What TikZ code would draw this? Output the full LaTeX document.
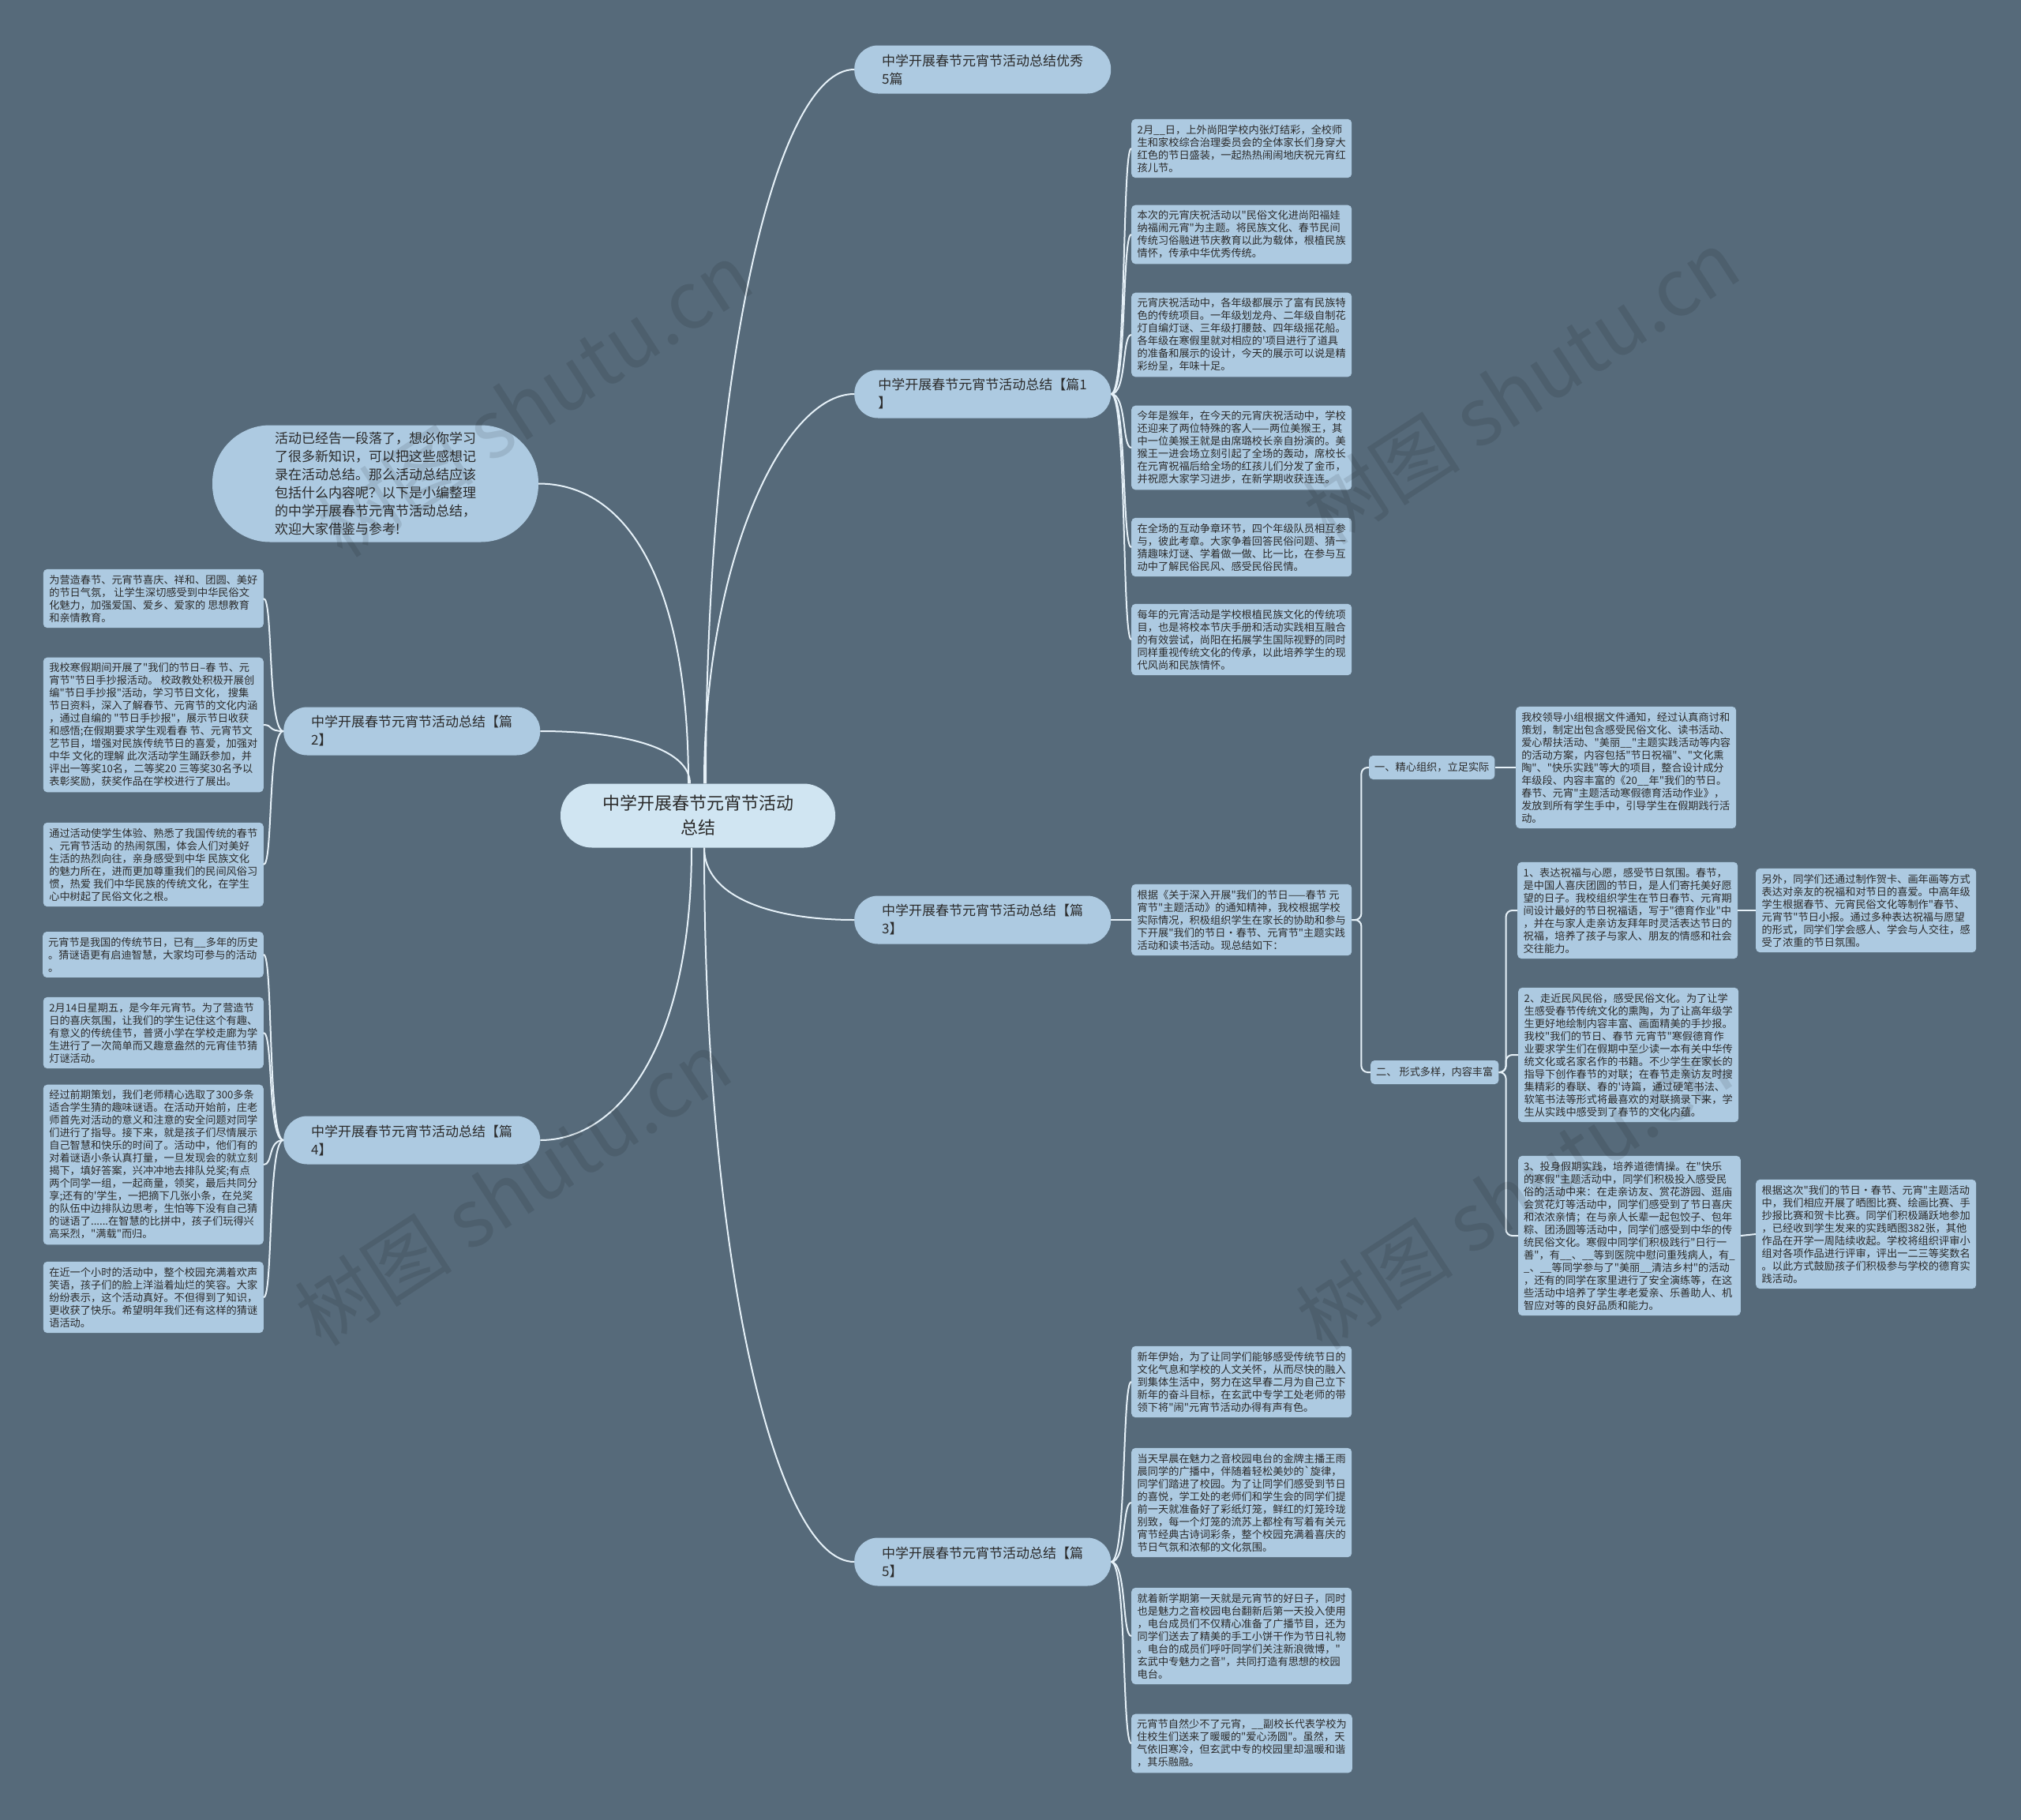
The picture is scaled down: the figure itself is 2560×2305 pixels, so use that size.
\documentclass[tikz,border=0pt]{standalone}
\usepackage{fontspec}
\setmainfont{Noto Sans CJK SC}[Ligatures=TeXOff]
\definecolor{bgc}{HTML}{566A7A}
\definecolor{leafc}{HTML}{ADCAE1}
\definecolor{rootc}{HTML}{D0E5F2}
\definecolor{linec}{HTML}{E6F1F8}
\definecolor{txtc}{HTML}{2B2B2B}
\begin{document}
\begin{tikzpicture}[x=1pt,y=-1pt,
  conn/.style={draw=linec, line width=2pt},
  leaf/.style={fill=leafc, rounded corners=5pt, align=left, text=txtc, font=\fontsize{13.2}{16}\selectfont, inner xsep=7pt, inner ysep=7pt, minimum width=279pt, anchor=west},
  leafl/.style={leaf, anchor=east},
  branch/.style={fill=leafc, rounded corners=30pt, align=left, text=txtc, font=\fontsize{17}{23}\selectfont, minimum width=325pt, minimum height=61pt, inner xsep=8pt, inner ysep=7pt, anchor=west},
  subnode/.style={fill=leafc, rounded corners=5pt, text=txtc, font=\fontsize{13.2}{16}\selectfont, inner xsep=7pt, inner ysep=6pt, minimum height=30pt, anchor=west},
  rootnode/.style={fill=rootc, rounded corners=40pt, align=center, text=txtc, font=\fontsize{22}{31}\selectfont, minimum width=348pt, minimum height=81pt},
  intronode/.style={fill=leafc, rounded corners=73pt, align=left, text=txtc, font=\fontsize{17}{23}\selectfont, minimum width=413pt, minimum height=148pt, inner ysep=4pt},
  wm/.style={text=black, opacity=0.1, font=\fontsize{100}{100}\selectfont, rotate=33}
]
\fill[bgc] (0,0) rectangle (2560,2305);
\useasboundingbox (0,0) rectangle (2560,2305);

% root and intro
\node[rootnode] (C) at (884,1033) {中学开展春节元宵节活动\\总结};
\node[intronode] (I0) at (475.5,612.5) {活动已经告一段落了，想必你学习\\了很多新知识，可以把这些感想记\\录在活动总结。那么活动总结应该\\包括什么内容呢？以下是小编整理\\的中学开展春节元宵节活动总结，\\欢迎大家借鉴与参考!};

% branches
\node[branch] (R0) at (1082,88) {中学开展春节元宵节活动总结优秀\\5篇};
\node[branch] (R1) at (1082,499) {中学开展春节元宵节活动总结【篇1\\】};
\node[branch] (R3) at (1082,1165) {中学开展春节元宵节活动总结【篇\\3】};
\node[branch] (R5) at (1082,1978) {中学开展春节元宵节活动总结【篇\\5】};
\node[branch] (L2) at (359,926) {中学开展春节元宵节活动总结【篇\\2】};
\node[branch] (L4) at (359,1444) {中学开展春节元宵节活动总结【篇\\4】};

% leaves of 篇1
\node[leaf] (P11) at (1433,188) {2月\_\_日，上外尚阳学校内张灯结彩，全校师\\生和家校综合治理委员会的全体家长们身穿大\\红色的节日盛装，一起热热闹闹地庆祝元宵红\\孩儿节。};
\node[leaf] (P12) at (1433,297) {本次的元宵庆祝活动以"民俗文化进尚阳福娃\\纳福闹元宵"为主题。将民族文化、春节民间\\传统习俗融进节庆教育以此为载体，根植民族\\情怀，传承中华优秀传统。};
\node[leaf] (P13) at (1433,424) {元宵庆祝活动中，各年级都展示了富有民族特\\色的传统项目。一年级划龙舟、二年级自制花\\灯自编灯谜、三年级打腰鼓、四年级摇花船。\\各年级在寒假里就对相应的'项目进行了道具\\的准备和展示的设计，今天的展示可以说是精\\彩纷呈，年味十足。};
\node[leaf] (P14) at (1433,567) {今年是猴年，在今天的元宵庆祝活动中，学校\\还迎来了两位特殊的客人——两位美猴王，其\\中一位美猴王就是由席璐校长亲自扮演的。美\\猴王一进会场立刻引起了全场的轰动，席校长\\在元宵祝福后给全场的红孩儿们分发了金币，\\并祝愿大家学习进步，在新学期收获连连。};
\node[leaf] (P15) at (1433,693) {在全场的互动争章环节，四个年级队员相互参\\与，彼此考章。大家争着回答民俗问题、猜一\\猜趣味灯谜、学着做一做、比一比，在参与互\\动中了解民俗民风、感受民俗民情。};
\node[leaf] (P16) at (1433,810) {每年的元宵活动是学校根植民族文化的传统项\\目，也是将校本节庆手册和活动实践相互融合\\的有效尝试，尚阳在拓展学生国际视野的同时\\同样重视传统文化的传承，以此培养学生的现\\代风尚和民族情怀。};

% leaves of 篇2
\node[leafl] (P21) at (334,758) {为营造春节、元宵节喜庆、祥和、团圆、美好\\的节日气氛， 让学生深切感受到中华民俗文\\化魅力，加强爱国、爱乡、爱家的 思想教育\\和亲情教育。};
\node[leafl] (P22) at (334,918) {我校寒假期间开展了"我们的节日–春 节、元\\宵节"节日手抄报活动。 校政教处积极开展创\\编"节日手抄报"活动，学习节日文化， 搜集\\节日资料，深入了解春节、元宵节的文化内涵\\，通过自编的 "节日手抄报"，展示节日收获\\和感悟;在假期要求学生观看春 节、元宵节文\\艺节目，增强对民族传统节日的喜爱，加强对\\中华 文化的理解 此次活动学生踊跃参加，并\\评出一等奖10名，二等奖20 三等奖30名予以\\表彰奖励，获奖作品在学校进行了展出。};
\node[leafl] (P23) at (334,1095) {通过活动使学生体验、熟悉了我国传统的春节\\、元宵节活动 的热闹氛围，体会人们对美好\\生活的热烈向往，亲身感受到中华 民族文化\\的魅力所在，进而更加尊重我们的民间风俗习\\惯，热爱 我们中华民族的传统文化，在学生\\心中树起了民俗文化之根。};

% leaves of 篇4
\node[leafl] (P41) at (334,1209) {元宵节是我国的传统节日，已有\_\_多年的历史\\。猜谜语更有启迪智慧，大家均可参与的活动\\。};
\node[leafl] (P42) at (334,1308) {2月14日星期五，是今年元宵节。为了营造节\\日的喜庆氛围，让我们的学生记住这个有趣、\\有意义的传统佳节，普贤小学在学校走廊为学\\生进行了一次简单而又趣意盎然的元宵佳节猜\\灯谜活动。};
\node[leafl] (P43) at (334,1475) {经过前期策划，我们老师精心选取了300多条\\适合学生猜的趣味谜语。在活动开始前，庄老\\师首先对活动的意义和注意的安全问题对同学\\们进行了指导。接下来，就是孩子们尽情展示\\自己智慧和快乐的时间了。活动中，他们有的\\对着谜语小条认真打量，一旦发现会的就立刻\\揭下，填好答案，兴冲冲地去排队兑奖;有点\\两个同学一组，一起商量，领奖，最后共同分\\享;还有的'学生，一把摘下几张小条，在兑奖\\的队伍中边排队边思考，生怕等下没有自己猜\\的谜语了......在智慧的比拼中，孩子们玩得兴\\高采烈，"满载"而归。};
\node[leafl] (P44) at (334,1643) {在近一个小时的活动中，整个校园充满着欢声\\笑语，孩子们的脸上洋溢着灿烂的笑容。大家\\纷纷表示，这个活动真好。不但得到了知识，\\更收获了快乐。希望明年我们还有这样的猜谜\\语活动。};

% 篇3
\node[leaf] (B3) at (1433,1165) {根据《关于深入开展"我们的节日——春节 元\\宵节"主题活动》的通知精神，我校根据学校\\实际情况，积极组织学生在家长的协助和参与\\下开展"我们的节日·春节、元宵节"主题实践\\活动和读书活动。现总结如下：};
\node[subnode] (S1) at (1734,972) {一、精心组织，立足实际};
\node[subnode] (S2) at (1736,1358) {二、 形式多样，内容丰富};
\node[leaf] (G1) at (1920,972) {我校领导小组根据文件通知，经过认真商讨和\\策划，制定出包含感受民俗文化、读书活动、\\爱心帮扶活动、"美丽\_\_"主题实践活动等内容\\的活动方案，内容包括"节日祝福"、"文化熏\\陶"、"快乐实践"等大的项目，整合设计成分\\年级段、内容丰富的《20\_\_年"我们的节日。\\春节、元宵"主题活动寒假德育活动作业》，\\发放到所有学生手中，引导学生在假期践行活\\动。};
\node[leaf] (H1) at (1922,1153) {1、表达祝福与心愿，感受节日氛围。春节，\\是中国人喜庆团圆的节日，是人们寄托美好愿\\望的日子。我校组织学生在节日春节、元宵期\\间设计最好的节日祝福语，写于"德育作业"中\\，并在与家人走亲访友拜年时灵活表达节日的\\祝福，培养了孩子与家人、朋友的情感和社会\\交往能力。};
\node[leaf] (H2) at (2224,1153) {另外，同学们还通过制作贺卡、画年画等方式\\表达对亲友的祝福和对节日的喜爱。中高年级\\学生根据春节、元宵民俗文化等制作"春节、\\元宵节"节日小报。通过多种表达祝福与愿望\\的形式，同学们学会感人、学会与人交往，感\\受了浓重的节日氛围。};
\node[leaf] (K1) at (1923,1336) {2、走近民风民俗，感受民俗文化。为了让学\\生感受春节传统文化的熏陶，为了让高年级学\\生更好地绘制内容丰富、画面精美的手抄报。\\我校"我们的节日、春节 元宵节"寒假德育作\\业要求学生们在假期中至少读一本有关中华传\\统文化或名家名作的书籍。不少学生在家长的\\指导下创作春节的对联；在春节走亲访友时搜\\集精彩的春联、春的'诗篇，通过硬笔书法、\\软笔书法等形式将最喜欢的对联摘录下来，学\\生从实践中感受到了春节的文化内蕴。};
\node[leaf] (J1) at (1923,1565) {3、投身假期实践，培养道德情操。在"快乐\\的寒假"主题活动中，同学们积极投入感受民\\俗的活动中来：在走亲访友、赏花游园、逛庙\\会赏花灯等活动中，同学们感受到了节日喜庆\\和浓浓亲情；在与亲人长辈一起包饺子、包年\\粽、团汤圆等活动中，同学们感受到中华的传\\统民俗文化。寒假中同学们积极践行"日行一\\善"，有\_\_、\_\_等到医院中慰问重残病人，有\_\\\_、\_\_等同学参与了"美丽\_\_清洁乡村"的活动\\，还有的同学在家里进行了安全演练等，在这\\些活动中培养了学生孝老爱亲、乐善助人、机\\智应对等的良好品质和能力。};
\node[leaf] (J2) at (2224,1563) {根据这次"我们的节日·春节、元宵"主题活动\\中，我们相应开展了晒图比赛、绘画比赛、手\\抄报比赛和贺卡比赛。同学们积极踊跃地参加\\，已经收到学生发来的实践晒图382张，其他\\作品在开学一周陆续收起。学校将组织评审小\\组对各项作品进行评审，评出一二三等奖数名\\。以此方式鼓励孩子们积极参与学校的德育实\\践活动。};

% leaves of 篇5
\node[leaf] (P51) at (1433,1750) {新年伊始，为了让同学们能够感受传统节日的\\文化气息和学校的人文关怀，从而尽快的融入\\到集体生活中，努力在这早春二月为自己立下\\新年的奋斗目标，在玄武中专学工处老师的带\\领下将"闹"元宵节活动办得有声有色。};
\node[leaf] (P52) at (1433,1903) {当天早晨在魅力之音校园电台的金牌主播王雨\\晨同学的广播中，伴随着轻松美妙的`旋律，\\同学们踏进了校园。为了让同学们感受到节日\\的喜悦，学工处的老师们和学生会的同学们提\\前一天就准备好了彩纸灯笼，鲜红的灯笼玲珑\\别致，每一个灯笼的流苏上都栓有写着有关元\\宵节经典古诗词彩条，整个校园充满着喜庆的\\节日气氛和浓郁的文化氛围。};
\node[leaf] (P53) at (1433,2072) {就着新学期第一天就是元宵节的好日子，同时\\也是魅力之音校园电台翻新后第一天投入使用\\，电台成员们不仅精心准备了广播节目，还为\\同学们送去了精美的手工小饼干作为节日礼物\\。电台的成员们呼吁同学们关注新浪微博，"\\玄武中专魅力之音"，共同打造有思想的校园\\电台。};
\node[leaf] (P54) at (1433,2208) {元宵节自然少不了元宵，\_\_副校长代表学校为\\住校生们送来了暖暖的"爱心汤圆"。虽然，天\\气依旧寒冷，但玄武中专的校园里却温暖和谐\\，其乐融融。};

% connectors from root
\draw[conn] ([xshift=10pt]C.north) .. controls +(0,-520) and +(-100,0) .. (R0.west);
\draw[conn] ([xshift=8pt]C.north) .. controls +(0,-280) and +(-90,0) .. (R1.west);
\draw[conn] ([xshift=8pt]C.south) .. controls +(0,60) and +(-110,0) .. (R3.west);
\draw[conn] ([xshift=8pt]C.south) .. controls +(0,520) and +(-100,0) .. (R5.west);
\draw[conn] (I0.east) .. controls +(110,0) and +(0,-260) .. ([xshift=-12pt]C.north);
\draw[conn] (L2.east) .. controls +(120,0) and +(0,-40) .. ([xshift=-10pt]C.north);
\draw[conn] (L4.east) .. controls +(100,0) and +(0,250) .. ([xshift=-8pt]C.south);

% connectors to leaves
\foreach \n in {P11,P12,P13,P14,P15,P16}
  \draw[conn] (R1.east) .. controls +(20,0) and +(-12,0) .. (\n.west);
\foreach \n in {P51,P52,P53,P54}
  \draw[conn] (R5.east) .. controls +(20,0) and +(-12,0) .. (\n.west);
\foreach \n in {P21,P22,P23}
  \draw[conn] (L2.west) .. controls +(-20,0) and +(12,0) .. (\n.east);
\foreach \n in {P41,P42,P43,P44}
  \draw[conn] (L4.west) .. controls +(-20,0) and +(12,0) .. (\n.east);

% 篇3 tree
\draw[conn] (R3.east) -- (B3.west);
\draw[conn, rounded corners=8pt] (B3.east) -- ++(12,0) |- (S1.west);
\draw[conn, rounded corners=8pt] (B3.east) -- ++(12,0) |- (S2.west);
\draw[conn] (S1.east) -- (G1.west);
\draw[conn, rounded corners=8pt] (S2.east) -- ++(9,0) |- (H1.west);
\draw[conn, rounded corners=8pt] (S2.east) -- ++(9,0) |- (K1.west);
\draw[conn, rounded corners=8pt] (S2.east) -- ++(9,0) |- (J1.west);
\draw[conn] (H1.east) -- (H2.west);
\draw[conn] (J1.east) -- (J2.west);

% watermarks
\node[wm] (wm1) at (677,506) {树图 shutu.cn};
\node[wm] (wm2) at (1927,490) {树图 shutu.cn};
\node[wm] (wm3) at (650,1505) {树图 shutu.cn};
\node[wm] (wm4) at (1918,1510) {树图 shutu.cn};
\end{tikzpicture}
\end{document}
